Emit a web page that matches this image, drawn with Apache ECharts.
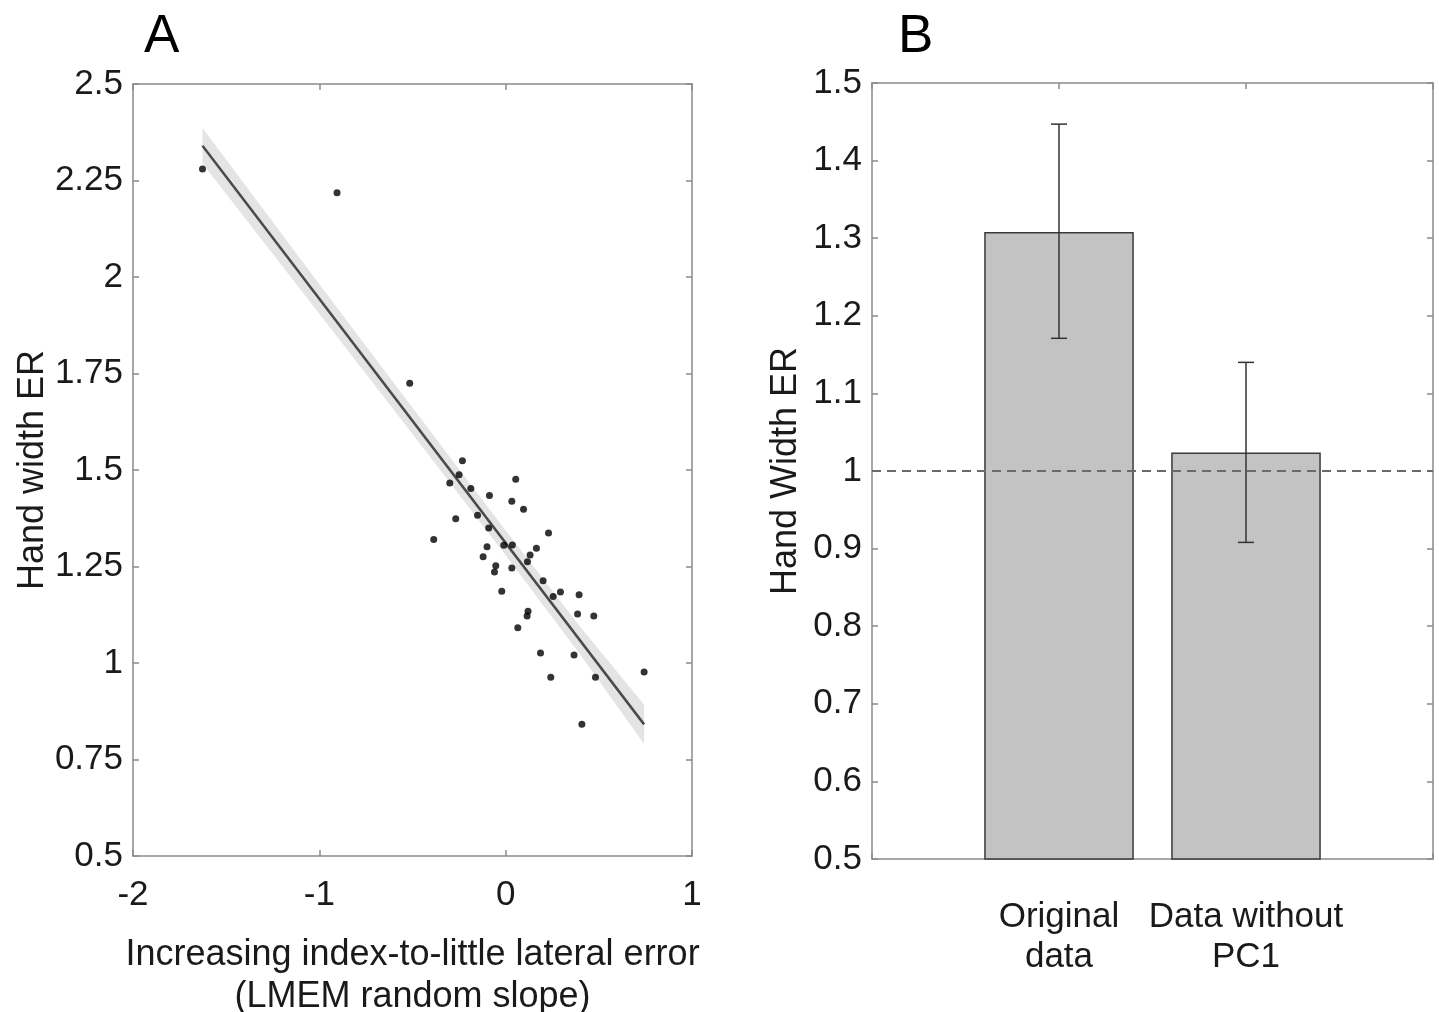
<!DOCTYPE html>
<html><head><meta charset="utf-8">
<script src="https://cdn.jsdelivr.net/npm/echarts@6/dist/echarts.min.js"></script>
<style>html,body{margin:0;padding:0;background:#fff}#c{width:1439px;height:1012px}</style>
</head><body><div id="c"></div>
<script>
// Panel A: scatter data
const scatterX = [-0.232,-0.250,-0.300,-0.187,0.054,-0.087,0.033,0.096,-0.268,-0.151,-0.091,0.230,-0.386,-0.100,-0.010,0.036,0.165,-0.121,0.131,0.117,-0.053,-0.060,0.033,0.201,-0.021,0.255,0.294,0.394,0.120,0.115,0.386,0.473,0.065,0.187,0.367,0.242,0.482,0.743,0.409,-1.627,-0.905,-0.515];
const scatterY = [1.524,1.488,1.466,1.452,1.476,1.434,1.419,1.398,1.374,1.383,1.350,1.337,1.320,1.301,1.305,1.306,1.297,1.275,1.280,1.262,1.252,1.236,1.246,1.213,1.186,1.172,1.184,1.177,1.134,1.122,1.127,1.122,1.091,1.026,1.021,0.963,0.963,0.977,0.841,2.280,2.218,1.725];
// Panel A: fit line and confidence band
const fitX = [-1.627, 0.743];
const fitY = [2.340, 0.841];
const bandX = [-1.627, -1.0, -0.5, 0, 0.4, 0.743];
const bandUpper = [2.386, 1.981, 1.661, 1.343, 1.094, 0.892];
const bandLower = [2.294, 1.905, 1.593, 1.279, 1.022, 0.790];
// Panel B: bars
const barCategories = ['', 'Original\ndata', 'Data without\nPC1', ''];
const barValues = ['-', 1.308, 1.024, '-'];
const errLow = [null, 1.171, 0.908, null];
const errHigh = [null, 1.447, 1.140, null];
const refValue = 1;

const FONT = 'Liberation Sans, Arial, sans-serif';
const AX = '#8a8a8a';
const TXT = '#1a1a1a';
const tickFont = 35;
const nameFont = 36;

function boxAxis(extra) {
  return Object.assign({
    axisLine: {show: true, onZero: false, lineStyle: {color: AX, width: 1.5}},
    axisTick: {show: true, inside: true, length: 6, lineStyle: {color: AX, width: 1.5}},
    splitLine: {show: false},
    axisLabel: {show: false}
  }, extra);
}

const chart = echarts.init(document.getElementById('c'));
const errData = [];
for (let i = 0; i < barCategories.length; i++) {
  if (errLow[i] != null) errData.push([i, errLow[i], errHigh[i]]);
}

chart.setOption({
  animation: false,
  backgroundColor: '#fff',
  textStyle: {fontFamily: FONT},
  title: [
    {text: 'A', left: 139, top: 6, textStyle: {fontSize: 53, fontWeight: 'normal', color: '#000', fontFamily: FONT}},
    {text: 'B', left: 893, top: 6, textStyle: {fontSize: 53, fontWeight: 'normal', color: '#000', fontFamily: FONT}}
  ],
  grid: [
    {left: 133, top: 84, width: 559, height: 772, show: false, containLabel: false, outerBoundsMode: 'none'},
    {left: 872, top: 83, width: 561, height: 776, show: false, containLabel: false, outerBoundsMode: 'none'}
  ],
  xAxis: [
    boxAxis({type: 'value', gridIndex: 0, min: -2, max: 1, interval: 1, position: 'bottom',
      axisLabel: {show: true, fontSize: tickFont, color: TXT, margin: 22, fontFamily: FONT},
      name: 'Increasing index-to-little lateral error\n(LMEM random slope)', nameLocation: 'middle', nameGap: 78,
      nameTextStyle: {fontSize: nameFont, color: TXT, lineHeight: 42, fontFamily: FONT}}),
    boxAxis({type: 'value', gridIndex: 0, min: -2, max: 1, interval: 1, position: 'top'}),
    boxAxis({type: 'category', gridIndex: 1, data: barCategories, boundaryGap: false, position: 'bottom',
      axisTick: {show: true, inside: true, length: 6, interval: 0, lineStyle: {color: AX, width: 1.5}},
      axisLabel: {show: true, interval: 0, fontSize: tickFont, color: TXT, margin: 38, lineHeight: 40, fontFamily: FONT}}),
    boxAxis({type: 'category', gridIndex: 1, data: barCategories, boundaryGap: false, position: 'top',
      axisTick: {show: true, inside: true, length: 6, interval: 0, lineStyle: {color: AX, width: 1.5}}})
  ],
  yAxis: [
    boxAxis({type: 'value', gridIndex: 0, min: 0.5, max: 2.5, interval: 0.25, position: 'left',
      axisLabel: {show: true, fontSize: tickFont, color: TXT, margin: 10, fontFamily: FONT},
      name: 'Hand width ER', nameLocation: 'middle', nameGap: 82,
      nameTextStyle: {fontSize: nameFont, color: TXT, fontFamily: FONT}}),
    boxAxis({type: 'value', gridIndex: 0, min: 0.5, max: 2.5, interval: 0.25, position: 'right'}),
    boxAxis({type: 'value', gridIndex: 1, min: 0.5, max: 1.5, interval: 0.1, position: 'left',
      axisLabel: {show: true, fontSize: tickFont, color: TXT, margin: 10, fontFamily: FONT},
      name: 'Hand Width ER', nameLocation: 'middle', nameGap: 68,
      nameTextStyle: {fontSize: nameFont, color: TXT, fontFamily: FONT}}),
    boxAxis({type: 'value', gridIndex: 1, min: 0.5, max: 1.5, interval: 0.1, position: 'right'})
  ],
  series: [
    {
      type: 'custom', xAxisIndex: 0, yAxisIndex: 0, z: 1,
      data: [[bandX[0], bandUpper[0]]],
      renderItem: function (params, api) {
        if (params.dataIndex !== 0) return;
        const pts = [];
        for (let i = 0; i < bandX.length; i++) pts.push(api.coord([bandX[i], bandUpper[i]]));
        for (let i = bandX.length - 1; i >= 0; i--) pts.push(api.coord([bandX[i], bandLower[i]]));
        return {type: 'polygon', shape: {points: pts}, style: {fill: '#e4e4e4'}};
      },
      silent: true
    },
    {
      type: 'line', xAxisIndex: 0, yAxisIndex: 0, z: 2,
      data: fitX.map((x, i) => [x, fitY[i]]),
      symbol: 'none', lineStyle: {color: '#4a4a4a', width: 2.5}
    },
    {
      type: 'scatter', xAxisIndex: 0, yAxisIndex: 0, z: 3,
      data: scatterX.map((x, i) => [x, scatterY[i]]),
      symbolSize: 7, itemStyle: {color: '#000'}
    },
    {
      type: 'bar', xAxisIndex: 2, yAxisIndex: 2, z: 2,
      data: barValues, barWidth: '80%',
      itemStyle: {color: '#c3c3c3', borderColor: '#3a3a3a', borderWidth: 1.5},
      markLine: {
        silent: true, symbol: 'none', label: {show: false},
        lineStyle: {type: [9, 6], color: '#6a6a6a', width: 2},
        data: [{yAxis: refValue}]
      }
    },
    {
      type: 'custom', xAxisIndex: 2, yAxisIndex: 2, z: 4,
      data: errData,
      encode: {x: 0, y: [1, 2]},
      renderItem: function (params, api) {
        const lo = api.coord([api.value(0), api.value(1)]);
        const hi = api.coord([api.value(0), api.value(2)]);
        const cap = 8;
        const st = {stroke: '#333', lineWidth: 1.5};
        return {type: 'group', children: [
          {type: 'line', shape: {x1: lo[0], y1: lo[1], x2: hi[0], y2: hi[1]}, style: st},
          {type: 'line', shape: {x1: lo[0] - cap, y1: lo[1], x2: lo[0] + cap, y2: lo[1]}, style: st},
          {type: 'line', shape: {x1: hi[0] - cap, y1: hi[1], x2: hi[0] + cap, y2: hi[1]}, style: st}
        ]};
      }
    }
  ]
});
</script>
</body></html>
